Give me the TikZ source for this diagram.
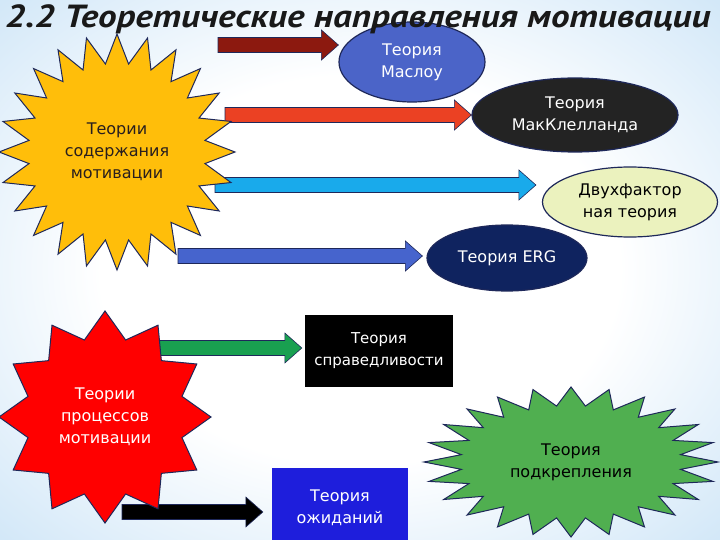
\documentclass[tikz,border=0pt]{standalone}
\usepackage{fontspec}
\setmainfont{DejaVu Sans}
\newfontfamily\titlefont[FakeStretch=1.16]{PT Sans}
\usetikzlibrary{shapes.geometric,calc}

\definecolor{bgblue}{RGB}{160,205,240}
\definecolor{outline}{RGB}{30,40,90}
\definecolor{sunyellow}{RGB}{255,190,10}
\definecolor{textdark}{RGB}{40,30,30}
\definecolor{maslowblue}{RGB}{75,100,200}
\definecolor{darkoval}{RGB}{35,35,35}
\definecolor{paleyellow}{RGB}{235,242,190}
\definecolor{ergnavy}{RGB}{15,35,95}
\definecolor{expblue}{RGB}{30,30,220}
\definecolor{leafgreen}{RGB}{80,175,80}
\definecolor{arrowmaroon}{RGB}{140,25,15}
\definecolor{arrowred}{RGB}{235,65,35}
\definecolor{arrowcyan}{RGB}{25,170,235}
\definecolor{arrowblue}{RGB}{70,100,205}
\definecolor{arrowgreen}{RGB}{25,160,80}

\pgfdeclareradialshading{slidebg}{\pgfpoint{0bp}{0bp}}{color(0bp)=(white); color(18bp)=(white); color(55bp)=(bgblue); color(80bp)=(bgblue)}

\begin{document}
\begin{tikzpicture}[x=1pt, y=-1pt,
	every node/.style={font=\fontsize{16}{22}\selectfont, align=center},
	oval/.style={ellipse, draw=outline, line width=1.2pt, inner sep=0pt, text=white},
	tbox/.style={rectangle, inner sep=0pt, text=white},
	burst/.style={star, draw=outline, line width=1pt, inner sep=0pt, star point ratio=1.33},
	blockarrow/.style={draw=outline, line width=0.6pt, to path={let \p1=(\tikztostart), \p2=(\tikztotarget) in
		(\x1,\y1+7.5pt) -- (\x2-17pt,\y1+7.5pt) -- (\x2-17pt,\y1+15pt) -- (\x2,\y1)
		-- (\x2-17pt,\y1-15pt) -- (\x2-17pt,\y1-7.5pt) -- (\x1,\y1-7.5pt) -- cycle}}]
	\useasboundingbox (0,0) rectangle (720,540);
	\clip (0,0) rectangle (720,540);
	\shade[shading=slidebg] (0,0) rectangle (720,540);
	% targets
	\node[oval, fill=maslowblue, minimum width=146pt, minimum height=80pt] (maslow) at (412,62) {Теория\\Маслоу};
	\node[oval, fill=darkoval, minimum width=206pt, minimum height=74pt] (mcc) at (575,115) {Теория\\МакКлелланда};
	\node[oval, fill=paleyellow, text=black, minimum width=175pt, minimum height=70pt] (twof) at (630,202) {Двухфактор\\ная теория};
	\node[oval, fill=ergnavy, minimum width=160pt, minimum height=66pt] (erg) at (507,258) {Теория ERG};
	\node[tbox, fill=black, minimum width=148pt, minimum height=72pt, font=\fontsize{15}{22}\selectfont] (equity) at (379,351) {Теория\\справедливости};
	\node[tbox, fill=expblue, minimum width=136pt, minimum height=80pt] (expect) at (340,508) {Теория\\ожиданий};
	% arrows
	\coordinate (s1) at (218,45);
	\coordinate (s2) at (225,115);
	\coordinate (s3) at (215,185);
	\coordinate (s4) at (178,256);
	\coordinate (s5) at (155,348);
	\coordinate (s6) at (122,512);
	\draw[blockarrow, fill=arrowmaroon] (s1) to (maslow.west);
	\draw[blockarrow, fill=arrowred] (s2) to (mcc.west);
	\draw[blockarrow, fill=arrowcyan] (s3) to ([xshift=-6pt]twof.west);
	\draw[blockarrow, fill=arrowblue] (s4) to ([xshift=-4pt]erg.west);
	\draw[blockarrow, fill=arrowgreen] (s5) to ([xshift=-3pt]equity.west);
	\draw[blockarrow, fill=black] (s6) to ([xshift=-9pt]expect.west);
	% stars
	\node[burst, star points=24, minimum size=236pt, fill=sunyellow, text=textdark] (content) at (117,152) {Теории\\содержания\\мотивации};
	\node[burst, star points=12, minimum size=212pt, fill=red, text=white] (process) at (105,417) {Теории\\процессов\\мотивации};
	\begin{scope}[shift={(571,462)}]
		\node[burst, star points=24, minimum size=150pt, xscale=1.96, transform shape, fill=leafgreen] (reinfstar) at (0,0) {};
	\end{scope}
	\node[text=black] (reinf) at (reinfstar.center) {Теория\\подкрепления};
	% title
	\node[anchor=base west, inner sep=0pt, text=black!90, font=\titlefont\bfseries\itshape\fontsize{32}{36}\selectfont] (title) at (5,28) {2.2 Теоретические направления мотивации};
\end{tikzpicture}
\end{document}
